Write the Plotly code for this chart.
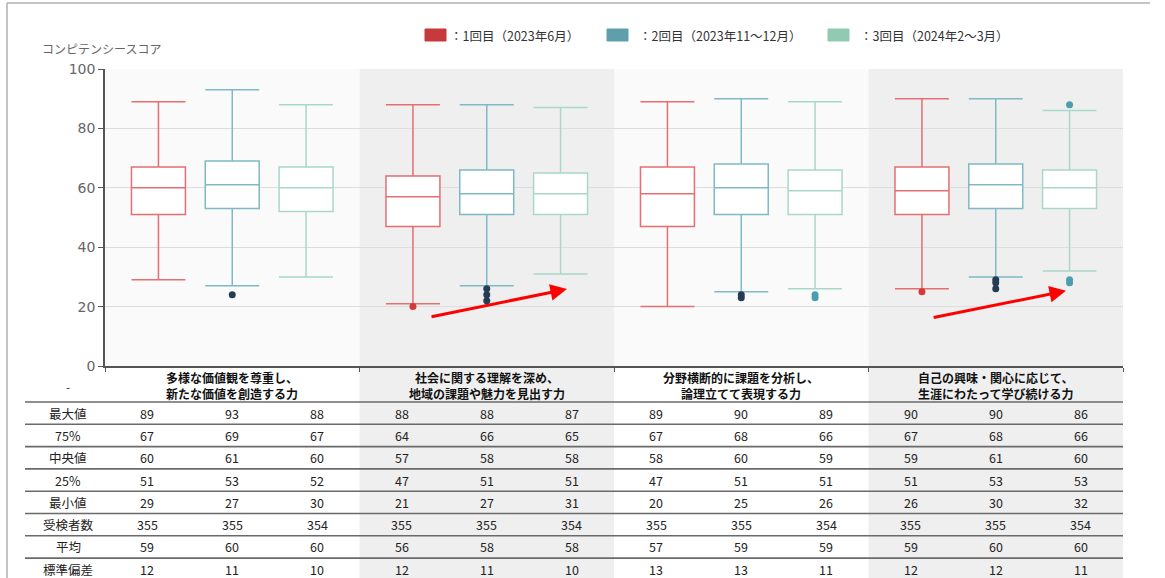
import plotly.graph_objects as go

# ---- data -------------------------------------------------------------
categories = [
    "多様な価値観を尊重し、<br>新たな価値を創造する力",
    "社会に関する理解を深め、<br>地域の課題や魅力を見出す力",
    "分野横断的に課題を分析し、<br>論理立てて表現する力",
    "自己の興味・関心に応じて、<br>生涯にわたって学び続ける力",
]
series_names = ["：1回目（2023年6月）", "：2回目（2023年11～12月）", "：3回目（2024年2～3月）"]

max_vals = [[89, 93, 88], [88, 88, 87], [89, 90, 89], [90, 90, 86]]
q3_vals = [[67, 69, 67], [64, 66, 65], [67, 68, 66], [67, 68, 66]]
median_vals = [[60, 61, 60], [57, 58, 58], [58, 60, 59], [59, 61, 60]]
q1_vals = [[51, 53, 52], [47, 51, 51], [47, 51, 51], [51, 53, 53]]
min_vals = [[29, 27, 30], [21, 27, 31], [20, 25, 26], [26, 30, 32]]
n_vals = [[355, 355, 354], [355, 355, 354], [355, 355, 354], [355, 355, 354]]
mean_vals = [[59, 60, 60], [56, 58, 58], [57, 59, 59], [59, 60, 60]]
sd_vals = [[12, 11, 10], [12, 11, 10], [13, 13, 11], [12, 12, 11]]

outliers = [
    [[], [24], []],
    [[20], [26, 24, 22], []],
    [[], [24, 23], [24, 23]],
    [[25], [29, 28, 26], [88, 29, 28]],
]

row_labels = ["最大値", "75%", "中央値", "25%", "最小値", "受検者数", "平均", "標準偏差"]
table_rows = [max_vals, q3_vals, median_vals, q1_vals, min_vals, n_vals, mean_vals, sd_vals]

# ---- styles -----------------------------------------------------------
box_line = ["#e46e72", "#7fb9c6", "#a8d9c7"]
legend_fill = ["#c7393b", "#5f9fab", "#90cab0"]
outlier_col = ["#d33a3a", "#263c52", "#4c9ead"]
offsets = [-0.29, 0.0, 0.29]
FONT = "Noto Sans CJK JP, Noto Sans, sans-serif"

W, H = 1165, 578
L, R, T, B = 105, 1123, 69, 366


def px(xp):
    return (xp - L) / (R - L)


def py(yp):
    return (B - yp) / (B - T)


fig = go.Figure()

# boxes
for g in range(4):
    for s in range(3):
        x0 = g + 0.5 + offsets[s]
        fig.add_trace(go.Box(
            x=[x0], q1=[q1_vals[g][s]], median=[median_vals[g][s]], q3=[q3_vals[g][s]],
            lowerfence=[min_vals[g][s]], upperfence=[max_vals[g][s]],
            width=0.212, whiskerwidth=1, boxpoints=False,
            fillcolor="white", line=dict(color=box_line[s], width=1.5),
            showlegend=False, hoverinfo="skip",
        ))
        if outliers[g][s]:
            fig.add_trace(go.Scatter(
                x=[x0] * len(outliers[g][s]), y=outliers[g][s], mode="markers",
                marker=dict(color=outlier_col[s], size=7),
                showlegend=False, hoverinfo="skip",
            ))

shapes = []
# alternating group bands in the plot and the table
for g in range(4):
    col = "#efefef" if g % 2 else "#fafafa"
    shapes.append(dict(type="rect", xref="x", yref="y", x0=g, x1=g + 1, y0=0, y1=100,
                       fillcolor=col, line_width=0, layer="below"))
    if g % 2:
        shapes.append(dict(type="rect", xref="paper", yref="paper",
                           x0=g / 4, x1=(g + 1) / 4, y0=py(578), y1=py(368),
                           fillcolor="#efefef", line_width=0, layer="below"))

# table rules
row_top = 402
row_h = 22.3
for i in range(len(row_labels)):
    yline = row_top + i * row_h
    shapes.append(dict(type="line", xref="paper", yref="paper",
                       x0=px(25), x1=1, y0=py(yline), y1=py(yline),
                       line=dict(color="#6a6a6a", width=1.6)))

# outer frame
shapes.append(dict(type="line", xref="paper", yref="paper", x0=px(7), x1=px(7),
                   y0=py(580), y1=py(3), line=dict(color="#b0b0b0", width=1.5)))
shapes.append(dict(type="line", xref="paper", yref="paper", x0=px(7), x1=px(1150),
                   y0=py(3), y1=py(3), line=dict(color="#b0b0b0", width=1.5)))

# legend swatches
legend_x = [425, 607, 828]
for s in range(3):
    shapes.append(dict(type="rect", xref="paper", yref="paper",
                       x0=px(legend_x[s]), x1=px(legend_x[s] + 21),
                       y0=py(41), y1=py(29), fillcolor=legend_fill[s],
                       line=dict(color=legend_fill[s], width=1)))

annotations = []
text_gap = [2, 9, 9]
for s in range(3):
    annotations.append(dict(xref="paper", yref="paper", x=px(legend_x[s] + 21 + text_gap[s]), y=py(35),
                            text=series_names[s], showarrow=False, xanchor="left", yanchor="middle",
                            font=dict(family=FONT, size=12.5, color="#333333")))

# y-axis title
annotations.append(dict(xref="paper", yref="paper", x=px(40), y=py(48), text="コンピテンシースコア",
                        showarrow=False, xanchor="left", yanchor="middle",
                        font=dict(family=FONT, size=12, color="#666666")))

# trend arrows
arrows = [((1.277, 16.5), (1.815, 25.9)), ((3.25, 16.2), (3.776, 25.3))]
for (tx, ty), (hx, hy) in arrows:
    annotations.append(dict(xref="x", yref="y", x=hx, y=hy, ax=tx, ay=ty,
                            axref="x", ayref="y", text="", showarrow=True,
                            arrowhead=2, arrowsize=1.1, arrowwidth=3, arrowcolor="#ff0000"))

# table header
annotations.append(dict(xref="paper", yref="paper", x=px(68), y=py(386), text="-", showarrow=False,
                        xanchor="center", yanchor="middle",
                        font=dict(family=FONT, size=12, color="#333333")))
for g in range(4):
    annotations.append(dict(xref="paper", yref="paper", x=(g + 0.5) / 4, y=py(385),
                            text="<b>" + categories[g] + "</b>", showarrow=False,
                            align="center", xanchor="center", yanchor="middle",
                            font=dict(family=FONT, size=12, color="#111111")))

# table body
for i, label in enumerate(row_labels):
    yc = py(row_top + (i + 0.5) * row_h)
    annotations.append(dict(xref="paper", yref="paper", x=px(68), y=yc, text=label, showarrow=False,
                            xanchor="center", yanchor="middle",
                            font=dict(family=FONT, size=12.5, color="#222222")))
    for g in range(4):
        for s in range(3):
            annotations.append(dict(xref="paper", yref="paper", x=(g + (s + 0.5) / 3) / 4, y=yc,
                                    text=str(table_rows[i][g][s]), showarrow=False,
                                    xanchor="center", yanchor="middle",
                                    font=dict(family=FONT, size=12.5, color="#222222")))

fig.update_layout(
    width=W, height=H,
    margin=dict(l=L, r=W - R, t=T, b=H - B),
    paper_bgcolor="white", plot_bgcolor="white",
    shapes=shapes, annotations=annotations,
    xaxis=dict(range=[0, 4], tickvals=[0, 1, 2, 3, 4], ticktext=["", "", "", "", ""],
               ticks="outside", ticklen=4, tickcolor="#555", showgrid=False, zeroline=False,
               showline=True, linecolor="#555", linewidth=1.5, fixedrange=True),
    yaxis=dict(range=[0, 100], tickvals=[0, 20, 40, 60, 80, 100], ticks="outside", ticklen=5,
               tickcolor="#555", showgrid=True, gridcolor="#dddddd", gridwidth=1, zeroline=False,
               showline=True, linecolor="#555", linewidth=1.5,
               tickfont=dict(family="DejaVu Sans, sans-serif", size=14, color="#666666"),
               fixedrange=True),
)

fig.write_html("out.html")
